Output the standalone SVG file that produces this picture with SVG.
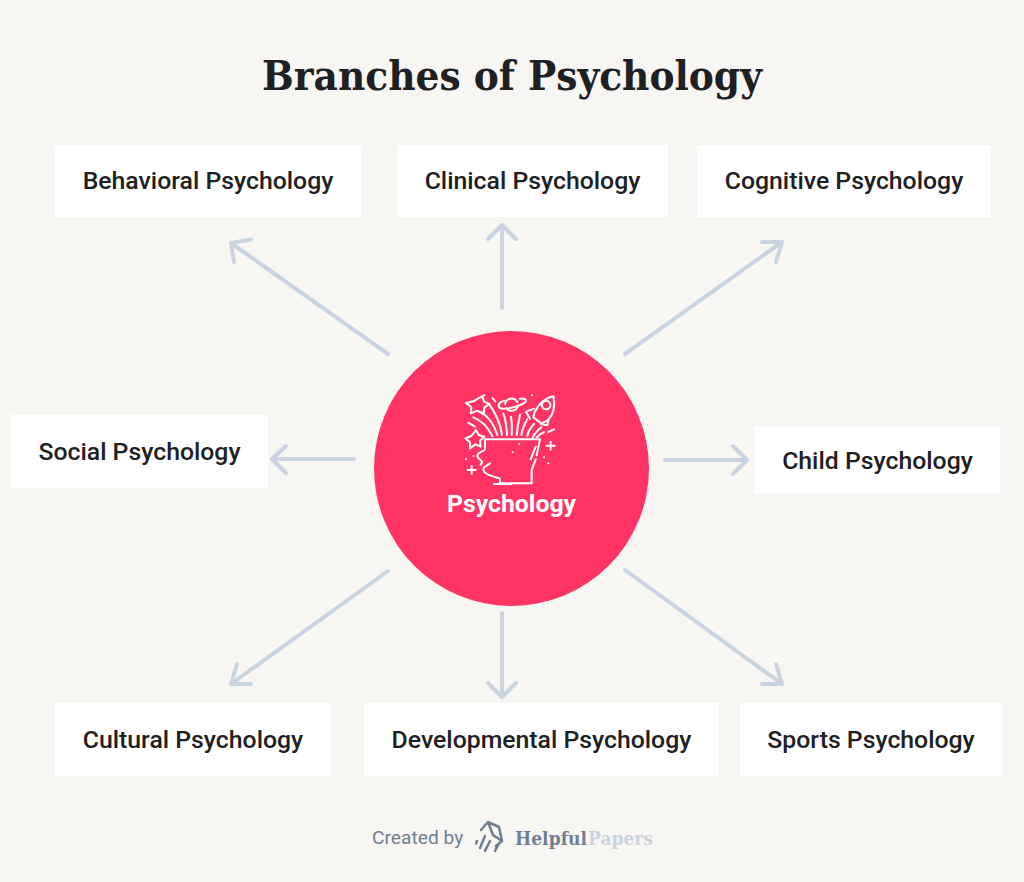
<svg xmlns="http://www.w3.org/2000/svg" width="1024" height="882" viewBox="0 0 1024 882">
<style>
.box{fill:#fff}
.lbl{font-family:Roboto,"Liberation Sans",sans-serif;font-weight:500;font-size:24.800px;fill:#1e2022;text-anchor:middle}
.arrow{fill:none;stroke:#c9d4e0;stroke-width:4;stroke-linecap:round;stroke-linejoin:round}
.ic{fill:none;stroke:#fff;stroke-width:6;stroke-linecap:round;stroke-linejoin:round}
.brand{font-family:"DejaVu Serif",serif;font-weight:700;font-size:19px}
</style>
<rect width="1024" height="882" fill="#f8f6f3"/>
<text id="title" x="512" y="90" font-family="'DejaVu Serif',serif" font-weight="700" font-size="41" fill="#1e2022" text-anchor="middle" textLength="500" lengthAdjust="spacingAndGlyphs">Branches of Psychology</text>
<g id="connectors" class="arrow">
<path d="M388 354L231 243M231 243L234 262M231 243L251 239.500"/>
<path d="M502 308V225M488 239L502 225L516 239"/>
<path d="M625 354L782 242M762 242L782 242L776 262"/>
<path d="M354 459H272M286 446L272 459L286 473"/>
<path d="M665 460H747M733 446L747 460L733 474"/>
<path d="M388 571L231 684M251 684L231 684L237 664"/>
<path d="M502 613V697M488 683L502 697L516 683"/>
<path d="M625 570L782 684M762 684L782 684L776 664"/>
</g>
<g id="n-behavioral"><rect class="box" x="55" y="145" width="306" height="72"/><text class="lbl" x="208" y="189">Behavioral Psychology</text></g>
<g id="n-clinical"><rect class="box" x="397" y="145" width="271" height="72"/><text class="lbl" x="532.500" y="189">Clinical Psychology</text></g>
<g id="n-cognitive"><rect class="box" x="697" y="145" width="294" height="72"/><text class="lbl" x="844" y="189">Cognitive Psychology</text></g>
<g id="n-social"><rect class="box" x="11" y="415" width="257" height="73"/><text class="lbl" x="139.500" y="460">Social Psychology</text></g>
<g id="n-child"><rect class="box" x="754" y="426" width="246" height="68"/><text class="lbl" x="877.500" y="469">Child Psychology</text></g>
<g id="n-cultural"><rect class="box" x="55" y="703" width="276" height="73"/><text class="lbl" x="193" y="748">Cultural Psychology</text></g>
<g id="n-developmental"><rect class="box" x="364" y="703" width="355" height="73"/><text class="lbl" x="541.500" y="748">Developmental Psychology</text></g>
<g id="n-sports"><rect class="box" x="740" y="703" width="262" height="73"/><text class="lbl" x="871" y="748">Sports Psychology</text></g>
<g id="n-center">
<circle cx="511.500" cy="468.500" r="137.500" fill="#ff3364"/>
<g class="ic" transform="translate(440 380) scale(.33333)">
<path d="M127 48L132 65L148 72L133 83L131 103L112 92L92 100L94 82L78 68L100 64Z"/>
<path d="M108 150L116 165L133 170L120 182L122 200L106 193L90 205L90 187L76 175L94 168Z"/>
<path d="M195 72a20 20 0 0 1 37-6M234 76a20 20 0 0 1-36 8"/>
<path d="M192 62C176 66 172 78 180 84C192 90 240 80 256 66C262 58 252 54 240 56"/>
<path d="M340 48C316 54 296 72 284 96L280 112L304 130L322 122C340 104 346 76 340 48Z"/>
<path d="M282 86L258 95L270 116M326 118L322 136L302 132M318 62a13 13 0 1 0 1 0"/>
<path d="M157 168C146 146 126 122 100 112M172 165C164 138 146 112 124 96M186 165C182 136 168 102 150 76M201 165C200 142 196 118 190 100M215 165C216 146 216 128 213 110M230 165C232 146 236 122 240 104M244 165C246 150 254 132 262 118M262 168C264 156 272 142 282 132M278 172C284 160 294 150 304 142M290 172C296 166 304 160 312 156"/>
<path d="M135 178H300L290 226M287 238L275 270V310H180V296L150 286C138 282 126 274 132 262L150 250M135 178V208C135 214 112 216 112 228C112 236 128 240 126 248L122 254"/>
<path d="M287 200L272 238M162 312H214"/>
<path d="M95 258V282M83 270H107M332 185V209M320 197H344M85 128L105 140M325 156L342 148M158 55L166 64M133 46h.1M276 46h.1M237 192h.1M218 217h.1M78 237h.1M100 228h.1M312 232h.1M325 250h.1"/>
</g>
<text x="511.500" y="512" font-family="Roboto,'Liberation Sans',sans-serif" font-weight="700" font-size="24.800" fill="#fff" text-anchor="middle">Psychology</text>
</g>
<g id="credit">
<text x="372" y="844" font-family="Roboto,'Liberation Sans',sans-serif" font-size="19.200" fill="#6f7f8f">Created by</text>
<g fill="none" stroke="#6f7f8f" stroke-width="2.500" stroke-linecap="round" stroke-linejoin="round">
<path d="M481 830L488 822L499 827L502 841L496 846M488 822L493 835L502 841"/>
<path d="M477 841l-.8 2.500M485 836l-5 12M490 841l-5 10M498 845l-3 6"/>
</g>
<text class="brand" x="515" y="845" fill="#6f7f8f" textLength="72" lengthAdjust="spacingAndGlyphs">Helpful</text>
<text class="brand" x="588" y="845" fill="#c9d4e0" textLength="65" lengthAdjust="spacingAndGlyphs">Papers</text>
</g>
</svg>
